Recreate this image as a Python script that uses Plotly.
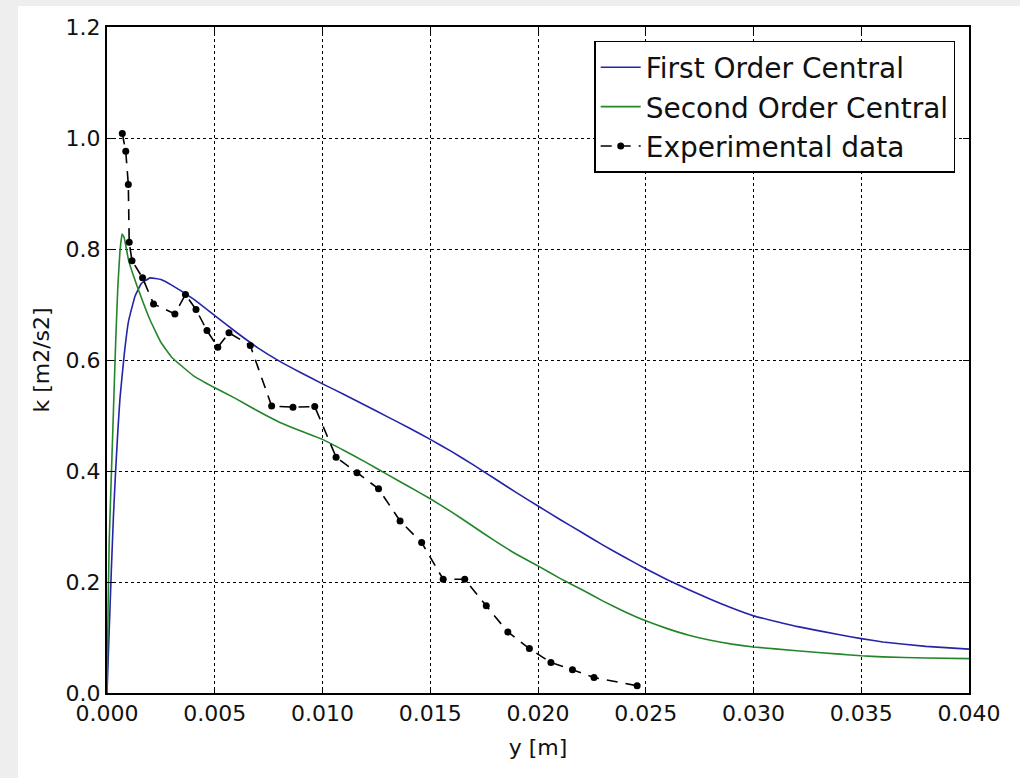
import plotly.graph_objects as go

# First Order Central
x_first = [0, 0.0001, 0.0002, 0.0003, 0.0004, 0.0005, 0.0006, 0.0008, 0.001, 0.0013,
           0.0016, 0.002, 0.0025, 0.003, 0.004, 0.005, 0.006, 0.007, 0.008, 0.009,
           0.010, 0.011, 0.012, 0.013, 0.014, 0.015, 0.016, 0.017, 0.018, 0.019,
           0.020, 0.021, 0.022, 0.023, 0.024, 0.025, 0.026, 0.027, 0.028, 0.029,
           0.030, 0.032, 0.034, 0.035, 0.036, 0.038, 0.040]
k_first = [0, 0.11, 0.22, 0.32, 0.40, 0.47, 0.53, 0.61, 0.67, 0.715,
           0.738, 0.748, 0.745, 0.735, 0.71, 0.68, 0.65, 0.622, 0.598, 0.577,
           0.557, 0.538, 0.518, 0.498, 0.478, 0.457, 0.435, 0.411, 0.386, 0.361,
           0.337, 0.313, 0.29, 0.267, 0.245, 0.224, 0.204, 0.186, 0.169, 0.153,
           0.139, 0.12, 0.105, 0.098, 0.092, 0.084, 0.079]

# Second Order Central
x_second = [0, 0.00005, 0.0001, 0.0002, 0.0003, 0.0004, 0.0005, 0.0006, 0.0007, 0.0008,
            0.001, 0.0012, 0.0015, 0.002, 0.0025, 0.003, 0.004, 0.005, 0.006, 0.007,
            0.008, 0.009, 0.010, 0.011, 0.012, 0.013, 0.014, 0.015, 0.016, 0.017,
            0.018, 0.019, 0.020, 0.021, 0.022, 0.023, 0.024, 0.025, 0.026, 0.027,
            0.028, 0.029, 0.030, 0.032, 0.034, 0.035, 0.036, 0.038, 0.040]
k_second = [0, 0.15, 0.27, 0.39, 0.51, 0.63, 0.73, 0.795, 0.827, 0.82,
            0.78, 0.755, 0.722, 0.672, 0.632, 0.605, 0.572, 0.55, 0.53, 0.508,
            0.488, 0.472, 0.457, 0.437, 0.416, 0.394, 0.372, 0.35, 0.326, 0.3,
            0.274, 0.25, 0.229, 0.207, 0.187, 0.166, 0.147, 0.130, 0.116, 0.104,
            0.095, 0.088, 0.083, 0.076, 0.07, 0.067, 0.065, 0.063, 0.062]

# Experimental data
x_exp = [0.00071, 0.00087, 0.00099, 0.00103, 0.00116, 0.00165, 0.00216, 0.00315,
         0.00364, 0.00413, 0.00464, 0.00514, 0.00566, 0.00665, 0.00764, 0.00863,
         0.00964, 0.01063, 0.0116, 0.0126, 0.0136, 0.0146, 0.0156, 0.0166,
         0.0176, 0.0186, 0.0196, 0.0206, 0.0216, 0.0226, 0.0246]
k_exp = [1.008, 0.976, 0.916, 0.812, 0.779, 0.748, 0.701, 0.683,
         0.718, 0.691, 0.653, 0.623, 0.649, 0.626, 0.517, 0.515,
         0.516, 0.425, 0.397, 0.368, 0.310, 0.271, 0.205, 0.205,
         0.157, 0.110, 0.080, 0.055, 0.042, 0.028, 0.013]

x_ticks = [0.000, 0.005, 0.010, 0.015, 0.020, 0.025, 0.030, 0.035, 0.040]
x_tick_text = ["0.000", "0.005", "0.010", "0.015", "0.020", "0.025", "0.030", "0.035", "0.040"]
y_ticks = [0.0, 0.2, 0.4, 0.6, 0.8, 1.0, 1.2]
y_tick_text = ["0.0", "0.2", "0.4", "0.6", "0.8", "1.0", "1.2"]

FONT = "DejaVu Sans"

fig = go.Figure()
fig.add_trace(go.Scatter(x=x_first, y=k_first, mode="lines", name="First Order Central",
                         line=dict(color="#2424a8", width=1.6, shape="spline", smoothing=0.3)))
fig.add_trace(go.Scatter(x=x_second, y=k_second, mode="lines", name="Second Order Central",
                         line=dict(color="#23862a", width=1.6, shape="spline", smoothing=0.3)))
fig.add_trace(go.Scatter(x=x_exp, y=k_exp, mode="lines+markers", name="Experimental data",
                         line=dict(color="black", width=1.6, dash="11px,8px"),
                         marker=dict(color="black", size=7)))

W, H = 1020, 778
L, R, T, B = 107, 51, 27, 85
pw, ph = W - L - R, H - T - B

# white figure area with light grey strip at top and left (as in the reference)
fig.add_shape(type="rect", xref="paper", yref="paper", layer="below",
              x0=(18 - L) / pw, x1=(W - L) / pw + 0.01,
              y0=-B / ph - 0.01, y1=(H - 6 - B) / ph,
              fillcolor="white", line=dict(width=0))

axis_common = dict(showline=True, linecolor="black", linewidth=2, mirror="ticks",
                   ticks="inside", ticklen=6, tickwidth=1.2, tickcolor="black",
                   showgrid=True, gridcolor="black", gridwidth=1, griddash="dot",
                   zeroline=False, tickfont=dict(family=FONT, size=22, color="#111"))

fig.update_xaxes(range=[0, 0.040], tickvals=x_ticks, ticktext=x_tick_text,
                 title=dict(text="y [m]", font=dict(family=FONT, size=22, color="#111"), standoff=14),
                 **axis_common)
fig.update_yaxes(range=[0, 1.2], tickvals=y_ticks, ticktext=y_tick_text,
                 title=dict(text="k [m2/s2]", font=dict(family=FONT, size=22, color="#111"), standoff=10),
                 **axis_common)

fig.update_layout(
    width=W, height=H,
    margin=dict(l=L, r=R, t=T, b=B),
    paper_bgcolor="#eeeeee",
    plot_bgcolor="white",
    font=dict(family=FONT, color="#111"),
    showlegend=True,
    legend=dict(x=0.984, y=0.979, xanchor="right", yanchor="top",
                bgcolor="white", bordercolor="black", borderwidth=1.5,
                font=dict(family=FONT, size=28, color="#111"),
                tracegroupgap=0, itemwidth=40),
)

fig.write_html("out.html", config={"displayModeBar": False},
               post_script="document.body.style.margin='0';document.body.style.overflow='hidden';")
